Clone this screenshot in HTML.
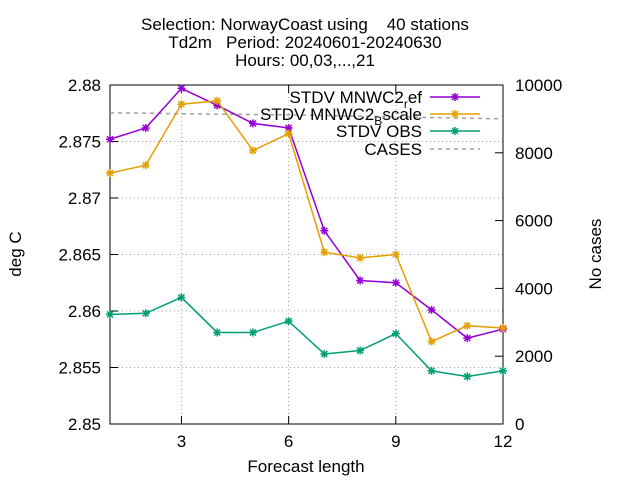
<!DOCTYPE html>
<html><head><meta charset="utf-8"><style>
body{margin:0;background:#fff}
svg{font-family:"Liberation Sans",sans-serif;font-size:17px}
</style></head><body>
<svg width="640" height="480" id="c">
<g id="grid"></g>
<g id="axes"></g>
<g id="series"></g>
<text x="305" y="30" text-anchor="middle" xml:space="preserve">Selection: NorwayCoast using    40 stations</text>
<text x="305" y="48" text-anchor="middle" xml:space="preserve">Td2m   Period: 20240601-20240630</text>
<text x="305" y="66" text-anchor="middle">Hours: 00,03,...,21</text>
<text x="306" y="472" text-anchor="middle">Forecast length</text>
<text transform="translate(21,254) rotate(-90)" text-anchor="middle">deg C</text>
<text transform="translate(601,254) rotate(-90)" text-anchor="middle">No cases</text>
<g id="legend"></g>
</svg>
<script>
const steps=[1,2,3,4,5,6,7,8,9,10,11,12];
const ref=[2.8752,2.8762,2.8797,2.8782,2.8766,2.8762,2.8671,2.8627,2.8625,2.8601,2.8576,2.8584];
const bscale=[2.8722,2.8729,2.8783,2.8786,2.8742,2.8757,2.8652,2.8647,2.8650,2.8573,2.8587,2.8585];
const obs=[2.8597,2.8598,2.8612,2.8581,2.8581,2.8591,2.8562,2.8565,2.8580,2.8547,2.8542,2.8547];
const cases=[9180,9170,9150,9140,9130,9120,9100,9080,9060,9040,9020,9000];
const yTicks=[2.85,2.855,2.86,2.865,2.87,2.875,2.88];
const yTickLabels=["2.85","2.855","2.86","2.865","2.87","2.875","2.88"];
const xTicks=[3,6,9,12];
const y2Ticks=[0,2000,4000,6000,8000,10000];
const L=110,R=503,T=85,B=424;
const X=v=>L+(v-1)/11*(R-L);
const Y=v=>B-(v-2.85)/0.03*(B-T);
const Y2=v=>B-v/10000*(B-T);
const NS="http://www.w3.org/2000/svg";
function mk(p,t,a){const e=document.createElementNS(NS,t);for(const k in a)e.setAttribute(k,a[k]);document.getElementById(p).appendChild(e);return e;}
const gridA={stroke:"#a0a0a0","stroke-width":1,"stroke-dasharray":"1,3"};
yTicks.forEach((v,i)=>{
 if(i>0&&i<yTicks.length-1){const g=mk("grid","line",Object.assign({x1:L,x2:R,y1:Y(v),y2:Y(v)},gridA));}
 const t=mk("axes","line",{x1:L,x2:L+8,y1:Y(v),y2:Y(v),stroke:"#000"});
 
 const l=mk("axes","text",{x:L-9,y:Y(v)+6,"text-anchor":"end"});l.textContent=yTickLabels[i];
 
});
xTicks.forEach(v=>{
 if(v<12){const g=mk("grid","line",Object.assign({x1:X(v),x2:X(v),y1:T,y2:B},gridA));}
 const t=mk("axes","line",{x1:X(v),x2:X(v),y1:B,y2:B-8,stroke:"#000"});
 
 const t2=mk("axes","line",{x1:X(v),x2:X(v),y1:T,y2:T+8,stroke:"#000"});
 
 const l=mk("axes","text",{x:X(v),y:B+23,"text-anchor":"middle"});l.textContent=String(v);
 
});
y2Ticks.forEach(v=>{
 const t=mk("axes","line",{x1:R,x2:R-8,y1:Y2(v),y2:Y2(v),stroke:"#000"});
 
 const l=mk("axes","text",{x:R+12,y:Y2(v)+6});l.textContent=String(v);
 
});
const fr=mk("axes","rect",{x:L,y:T,width:R-L,height:B-T,fill:"none",stroke:"#000"});

function star(px,py,c,p){
 const d=`M${px-4},${py}H${px+4}M${px},${py-4}V${py+4}M${px-3},${py-3}L${px+3},${py+3}M${px-3},${py+3}L${px+3},${py-3}`;
 const e=mk(p,"path",{d:d,stroke:c,"stroke-width":1.5,fill:"none"});
 
}
const cs=mk("series","polyline",{points:steps.map((s,i)=>X(s)+","+Y2(cases[i])).join(" "),fill:"none",stroke:"#a0a0a0","stroke-width":1.5,"stroke-dasharray":"4,4"});

[[ref,"#9400d3","ref-line"],[bscale,"#e69f00","bscale-line"],[obs,"#009e73","obs-line"]].forEach(([d,c,n])=>{
 const p=mk("series","polyline",{points:steps.map((s,i)=>X(s)+","+Y(d[i])).join(" "),fill:"none",stroke:c,"stroke-width":1.5});
 
 steps.forEach((s,i)=>star(X(s),Y(d[i]),c,"series"));
});
const leg=[["STDV MNWC2","ef","r","#9400d3",false],["STDV MNWC2","scale","B","#e69f00",false],["STDV OBS","","","#009e73",false],["CASES","","","#a0a0a0",true]];
const legY=[97,114,131,149];
leg.forEach((e,i)=>{
 const y=legY[i];
 const t=mk("legend","text",{x:422,y:y+6,"text-anchor":"end"});
 if(e[2]){t.innerHTML=e[0]+'<tspan dy="5" font-size="12">'+e[2]+'</tspan><tspan dy="-5">'+e[1]+'</tspan>';}
 else t.textContent=e[0];
 
 const a={x1:430,x2:480,y1:y,y2:y,stroke:e[3],"stroke-width":1.5};
 if(e[4])a["stroke-dasharray"]="4,4";
 const l=mk("legend","line",a);
 
 if(!e[4])star(455,y,e[3],"legend");
});
</script>
</body></html>
